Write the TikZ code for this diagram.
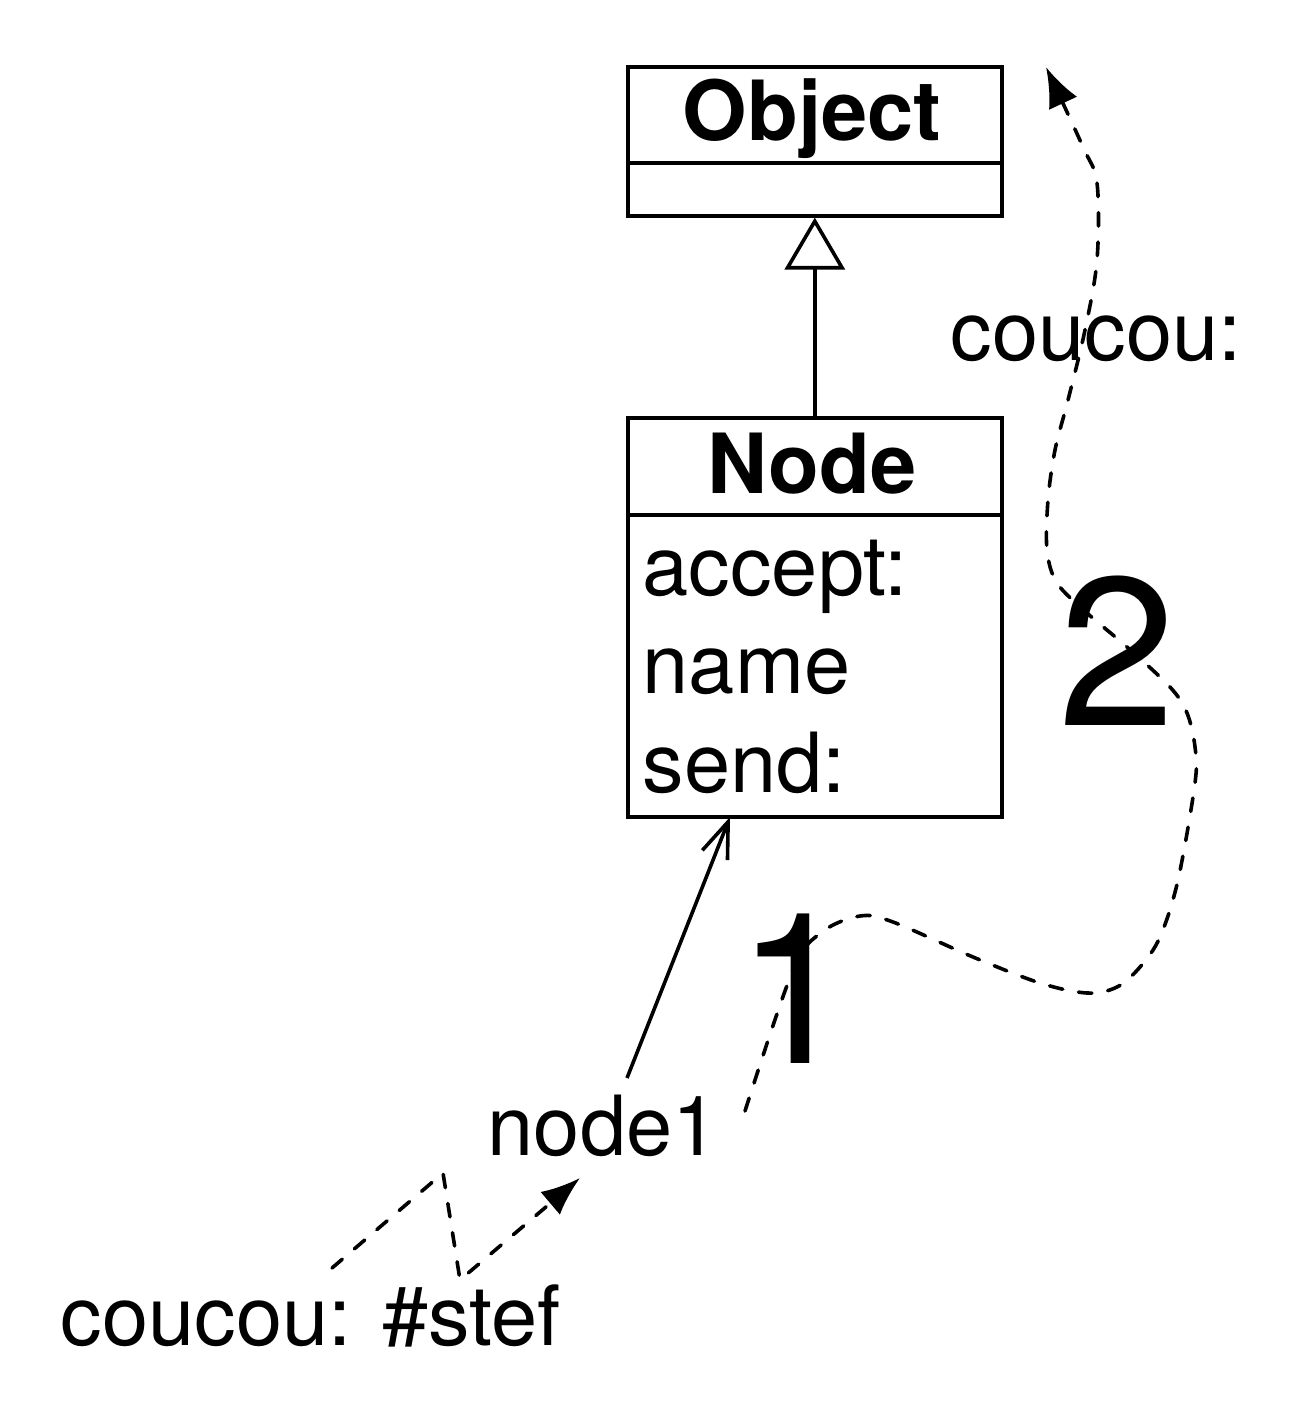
\documentclass[tikz,border=0pt]{standalone}
\usepackage{fontspec}
\setmainfont{TeX Gyre Heros}
\usetikzlibrary{arrows.meta}
\begin{document}
\begin{tikzpicture}[x=1pt,y=-1pt,line width=3.6pt,
  txt/.style={font=\fontsize{83}{83}\selectfont,inner sep=0pt},
  btxt/.style={font=\fontsize{83}{83}\selectfont\bfseries,inner sep=0pt,anchor=base},
  num/.style={font=\fontsize{211}{211}\selectfont,inner sep=0pt,anchor=base west},
  classbox/.style={draw,inner sep=0pt,anchor=north west,minimum width=374pt},
  dashline/.style={dash pattern=on 13.5pt off 16pt,line cap=round}]
\useasboundingbox (0,0) rectangle (1308,1404);
% Object class
\node[classbox,minimum height=149pt] (objbox) at (626,65) {};
\draw (626,163) -- (1000,163);
\node[btxt] (objtitle) at (812,141) {Object};
% Node class
\node[classbox,minimum height=399pt] (nodebox) at (626,416) {};
\draw (626,515) -- (1000,515);
\node[btxt] (nodetitle) at (812,493) {Node};
\node[txt,anchor=base west] (m1) at (641,595) {accept:};
\node[txt,anchor=base west] (m2) at (641,693) {name};
\node[txt,anchor=base west] (m3) at (641,792) {send:};
% inheritance
\draw[-{Triangle[open,length=52pt,width=60pt]}] (nodebox.north) -- (objbox.south);
% labels
\node[txt,anchor=base west] (node1) at (486,1155) {node1};
\node[txt,anchor=base west] (msg) at (59,1345) {coucou: \#stef};
\node[txt,anchor=base west] (msg2) at (949,360) {coucou:};
\node[num] (one) at (735,1063) {1};
\node[num] (two) at (1057,725) {2};
% association node1 -> Node
\coordinate (a1) at (627,1078);
\coordinate (a2) at (730,817);
\draw[-{Straight Barb[length=36pt,width=27pt]}] (a1) -- (a2);
% message send zigzag
\coordinate (z0) at (332,1268);
\coordinate (z1) at (443,1173);
\coordinate (z2) at (460,1280);
\coordinate (z3) at (580,1178);
\draw[dashline,-{Latex[length=39pt,width=30pt]}] (z0) -- (z1) -- (z2) -- (z3);
% lookup curve
\coordinate (c0) at (745,1111);
\coordinate (c9) at (1046,67);
\draw[dashline,-{Latex[length=40pt,width=31pt]}] plot[smooth,tension=0.55] coordinates {
 (c0) (793,970) (822,932) (860,916) (893,922) (973,957) (1040,983) (1087,993)
 (1117,987) (1140,967) (1160,937) (1178,880) (1195,783) (1195,747) (1187,713)
 (1170,687) (1127,647) (1087,613) (1057,583) (1047,550) (1048,500) (1055,450)
 (1068,400) (1085,330) (1097,260) (1097,183) (1083,147) (c9)};
\end{tikzpicture}
\end{document}
